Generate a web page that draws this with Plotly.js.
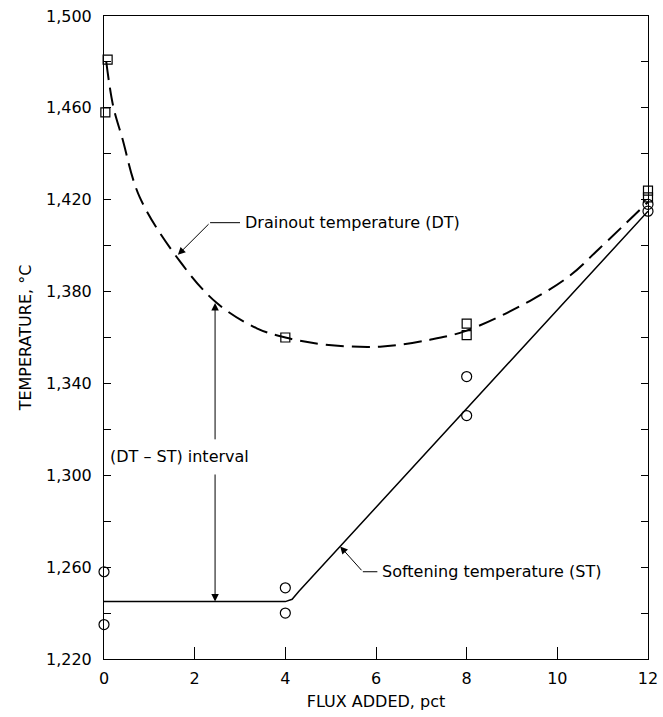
<!DOCTYPE html>
<html>
<head>
<meta charset="utf-8">
<script src="https://cdn.plot.ly/plotly-3.0.1.min.js"></script>
<style>html,body{margin:0;padding:0;background:#fff;}#chart{width:663px;height:717px;}</style>
</head>
<body>
<div id="chart"></div>
<script>
// Drainout temperature (DT) measured points
const dtX = [0.08, 0.03, 4, 8, 8, 12, 12];
const dtY = [1481, 1458, 1360, 1366, 1361, 1424, 1421];
// Softening temperature (ST) measured points
const stX = [0, 0, 4, 4, 8, 8, 12, 12];
const stY = [1258, 1235, 1251, 1240, 1343, 1326, 1418, 1415];
// DT fitted (dashed) curve
const dtCurveX = [0.05, 0.2, 0.4, 0.79, 1.68, 2.49, 3.37, 4, 4.83, 6.09, 7.19, 8, 9.4, 10.28, 10.94, 12];
const dtCurveY = [1480, 1461, 1447, 1421, 1393, 1375, 1364, 1360, 1357, 1356, 1359, 1363, 1376, 1387, 1399, 1419];
// ST fitted (solid) line
const stLineX = [0, 4.0, 4.15, 4.3, 12];
const stLineY = [1245, 1245, 1246, 1249.5, 1415];
// axis ticks
const xTicks = [0, 2, 4, 6, 8, 10, 12];
const yTicks = [1220, 1260, 1300, 1340, 1380, 1420, 1460, 1500];

const FONT = 'DejaVu Sans, Verdana, sans-serif';

const traces = [
  {x: dtCurveX, y: dtCurveY, mode: 'lines', line: {shape: 'spline', smoothing: 1, color: '#000', width: 2, dash: '18px,8px'}, hoverinfo: 'skip', cliponaxis: false},
  {x: stLineX, y: stLineY, mode: 'lines', line: {shape: 'linear', color: '#000', width: 1.5}, hoverinfo: 'skip', cliponaxis: false},
  {x: dtX, y: dtY, mode: 'markers', marker: {symbol: 'square-open', size: 9, color: '#000', line: {width: 1.2, color: '#000'}}, cliponaxis: false},
  {x: stX, y: stY, mode: 'markers', marker: {symbol: 'circle-open', size: 10, color: '#000', line: {width: 1.2, color: '#000'}}, cliponaxis: false}
];

const arrowBase = {showarrow: true, text: '', axref: 'x', ayref: 'y', arrowhead: 2, arrowsize: 1.5, arrowwidth: 1, arrowcolor: '#000', standoff: 0, startstandoff: 0};

const layout = {
  width: 663, height: 717,
  margin: {l: 104, r: 15, t: 16, b: 58},
  paper_bgcolor: '#fff', plot_bgcolor: '#fff',
  showlegend: false,
  font: {family: FONT, size: 16, color: '#000'},
  xaxis: {
    range: [0, 12], tickvals: xTicks, ticks: 'inside', ticklen: 12, tickcolor: '#000', tickwidth: 1,
    showline: true, linecolor: '#000', linewidth: 1, mirror: true, showgrid: false, zeroline: false,
    tickfont: {family: FONT, size: 16}, ticklabelstandoff: 5,
    title: {text: 'FLUX ADDED, pct', font: {family: FONT, size: 16}, standoff: 8}
  },
  yaxis: {
    range: [1220, 1500], tickvals: yTicks, tickformat: ',d', ticks: 'inside', ticklen: 7, tickcolor: '#000', tickwidth: 1,
    minor: {dtick: 20, ticks: 'inside', ticklen: 7, tickcolor: '#000', tickwidth: 1, showgrid: false},
    showline: true, linecolor: '#000', linewidth: 1, mirror: 'ticks', showgrid: false, zeroline: false,
    tickfont: {family: FONT, size: 16}, ticklabelstandoff: 8,
    title: {text: 'TEMPERATURE, °C', font: {family: FONT, size: 16}, standoff: 10}
  },
  shapes: [
    {type: 'line', xref: 'x', yref: 'y', x0: 2.34, x1: 3.0, y0: 1410, y1: 1410, line: {color: '#000', width: 1}},
    {type: 'line', xref: 'x', yref: 'y', x0: 5.71, x1: 6.03, y0: 1258, y1: 1258, line: {color: '#000', width: 1}}
  ],
  annotations: [
    {x: 3.07, y: 1410, xref: 'x', yref: 'y', text: 'Drainout temperature (DT)', showarrow: false, xanchor: 'left', yanchor: 'middle', font: {family: FONT, size: 16}},
    Object.assign({}, arrowBase, {x: 1.63, y: 1396, ax: 2.34, ay: 1410}),
    {x: 6.09, y: 1258, xref: 'x', yref: 'y', text: 'Softening temperature (ST)', showarrow: false, xanchor: 'left', yanchor: 'middle', font: {family: FONT, size: 16}},
    Object.assign({}, arrowBase, {x: 5.21, y: 1269, ax: 5.71, ay: 1258}),
    {x: 0.09, y: 1308, xref: 'x', yref: 'y', text: '(DT – ST) interval', showarrow: false, xanchor: 'left', yanchor: 'middle', font: {family: FONT, size: 16}},
    Object.assign({}, arrowBase, {x: 2.45, y: 1375, ax: 2.45, ay: 1315}),
    Object.assign({}, arrowBase, {x: 2.45, y: 1245, ax: 2.45, ay: 1301})
  ]
};

Plotly.newPlot('chart', traces, layout, {displayModeBar: false, staticPlot: true});
</script>
</body>
</html>
